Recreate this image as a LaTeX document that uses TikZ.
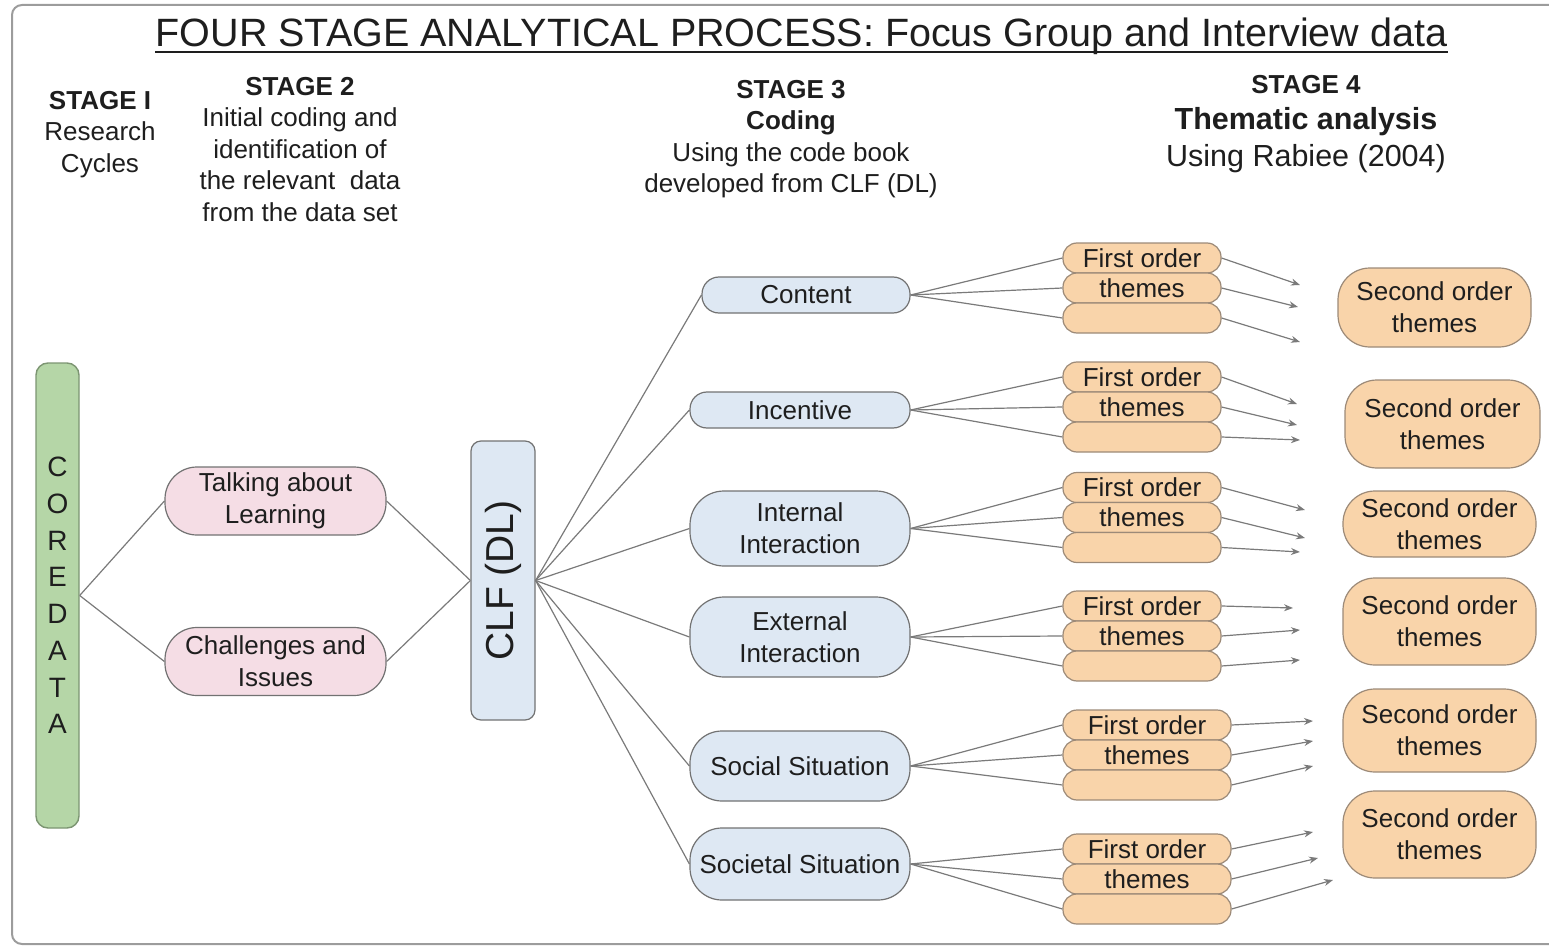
\documentclass[tikz,border=0pt]{standalone}
\usepackage{fontspec}
\setmainfont{Liberation Sans}
\usetikzlibrary{arrows.meta, positioning}

\definecolor{textGray}{HTML}{1E1E1E}
\definecolor{frameGray}{HTML}{9C9C9C}
\definecolor{lineGray}{HTML}{7A7A7A}
\definecolor{boxBorder}{HTML}{727272}
\definecolor{coreGreen}{HTML}{B5D6A7}
\definecolor{coreBorder}{HTML}{7C9572}
\definecolor{talkPink}{HTML}{F5DDE5}
\definecolor{codeBlue}{HTML}{DEE8F3}
\definecolor{themeOrange}{HTML}{F9D4AA}
\definecolor{themeBorder}{HTML}{9C8A78}

\begin{document}
\begin{tikzpicture}[x=0.5pt, y=-0.5pt, node distance=15pt,
    every node/.style={align=center, text=textGray, font=\fontsize{13}{15.8}\selectfont},
    heading/.style={anchor=north, inner sep=0pt},
    coredata/.style={draw=coreBorder, fill=coreGreen, line width=0.7pt, rounded corners=6pt, minimum width=21.5pt, minimum height=232.5pt, inner sep=0pt, font=\fontsize{14}{18.35}\selectfont},
    talkbox/.style={draw=boxBorder, fill=talkPink, line width=0.6pt, rounded corners=16pt, minimum width=110.5pt, minimum height=34pt, inner sep=0pt},
    clfbox/.style={draw=boxBorder, fill=codeBlue, line width=0.6pt, rounded corners=5pt, minimum width=32pt, minimum height=139.5pt, inner sep=0pt, font=\fontsize{19.5}{22}\selectfont},
    codebox/.style={draw=boxBorder, fill=codeBlue, line width=0.6pt, rounded corners=#1, minimum width=110pt, inner sep=0pt},
    firstbox/.style={draw=themeBorder, fill=themeOrange, line width=0.6pt, rounded corners=7pt, minimum width=79pt, minimum height=15pt, inner sep=0pt},
    secondbox/.style={draw=themeBorder, fill=themeOrange, line width=0.6pt, rounded corners=16pt, minimum width=96.5pt, inner sep=0pt},
    link/.style={draw=lineGray, line width=0.6pt},
    pointer/.style={link, -{Stealth[length=4.5pt, width=3.5pt]}}]

    \useasboundingbox (0,0) rectangle (1549,947);
    \clip (0,0) rectangle (1549,947);
    \draw[frameGray, line width=1pt, rounded corners=5pt] (12,5) rectangle (1600,944);

    % Title and stage headings
    \node (title) [anchor=base, inner sep=0pt, font=\fontsize{19.75}{24}\selectfont] at (801.5,47) {FOUR STAGE ANALYTICAL PROCESS: Focus Group and Interview data};
    \draw[textGray, line width=1.1pt] ([yshift=-2.6pt]title.base west) -- ([yshift=-2.6pt]title.base east);
    \node (stageOne) [heading] at (100,90.5) {\textbf{STAGE I}\\Research\\Cycles};
    \node (stageTwo) [heading] at (300,76.5) {\textbf{STAGE 2}\\Initial coding and\\identification of\\the relevant~ data\\from the data set};
    \node (stageThree) [heading] at (791,79.5) {\textbf{STAGE 3}\\\textbf{Coding}\\Using the code book\\developed from CLF (DL)};
    \node (stageFour) [heading, font=\fontsize{15.25}{18.4}\selectfont] at (1306,74.5) {{\fontsize{13}{15.8}\selectfont\textbf{STAGE 4}}\\\textbf{Thematic analysis}\\Using Rabiee (2004)};

    % Nodes
    \node (coredata) [coredata] at (57.5,595.5) {C\\O\\R\\E\\D\\A\\T\\A};
    \node (talking) [talkbox] at (275.5,501) {Talking about\\Learning};
    \node (challenges) [talkbox] at (275.5,661.5) {Challenges and\\Issues};
    \node (clf) [clfbox] at (503,580.5) {\rotatebox{90}{CLF (DL)}};

    \node (content) [codebox=8.5pt, minimum width=104pt, minimum height=18pt] at (806,295) {Content};
    \node (incentive) [codebox=8.5pt, minimum height=18pt] at (800,410) {Incentive};
    \node (internal) [codebox=17pt, minimum height=37.5pt] at (800,528.5) {Internal\\Interaction};
    \node (external) [codebox=17pt, minimum height=40pt] at (800,637) {External\\Interaction};
    \node (social) [codebox=16pt, minimum height=35pt] at (800,766) {Social Situation};
    \node (societal) [codebox=16pt, minimum height=36pt] at (800,864) {Societal Situation};

    \node (contentFirst1) [firstbox] at (1142,258) {First order};
    \node (contentFirst2) [firstbox, below of=contentFirst1] {themes};
    \node (contentFirst3) [firstbox, below of=contentFirst2] {};
    \node (incentiveFirst1) [firstbox] at (1142,377) {First order};
    \node (incentiveFirst2) [firstbox, below of=incentiveFirst1] {themes};
    \node (incentiveFirst3) [firstbox, below of=incentiveFirst2] {};
    \node (internalFirst1) [firstbox] at (1142,487.5) {First order};
    \node (internalFirst2) [firstbox, below of=internalFirst1] {themes};
    \node (internalFirst3) [firstbox, below of=internalFirst2] {};
    \node (externalFirst1) [firstbox] at (1142,606) {First order};
    \node (externalFirst2) [firstbox, below of=externalFirst1] {themes};
    \node (externalFirst3) [firstbox, below of=externalFirst2] {};
    \node (socialFirst1) [firstbox, minimum width=84pt] at (1147,725) {First order};
    \node (socialFirst2) [firstbox, minimum width=84pt, below of=socialFirst1] {themes};
    \node (socialFirst3) [firstbox, minimum width=84pt, below of=socialFirst2] {};
    \node (societalFirst1) [firstbox, minimum width=84pt] at (1147,849) {First order};
    \node (societalFirst2) [firstbox, minimum width=84pt, below of=societalFirst1] {themes};
    \node (societalFirst3) [firstbox, minimum width=84pt, below of=societalFirst2] {};

    \node (contentSecond) [secondbox, minimum height=39.5pt] at (1434.5,307.5) {Second order\\themes};
    \node (incentiveSecond) [secondbox, minimum width=97.5pt, minimum height=44pt] at (1442.5,424) {Second order\\themes};
    \node (internalSecond) [secondbox, minimum height=33pt] at (1439.5,524) {Second order\\themes};
    \node (externalSecond) [secondbox, minimum height=43.5pt] at (1439.5,621.5) {Second order\\themes};
    \node (socialSecond) [secondbox, minimum height=41.5pt] at (1439.5,730.5) {Second order\\themes};
    \node (societalSecond) [secondbox, minimum height=43.5pt] at (1439.5,834.5) {Second order\\themes};

    % Arrow ends
    \coordinate (contentTip1) at (1300,285);
    \coordinate (contentTip2) at (1298,307);
    \coordinate (contentTip3) at (1300,342);
    \coordinate (incentiveTip1) at (1297,404);
    \coordinate (incentiveTip2) at (1297,425);
    \coordinate (incentiveTip3) at (1300,440);
    \coordinate (internalTip1) at (1305,510);
    \coordinate (internalTip2) at (1305,538);
    \coordinate (internalTip3) at (1300,552);
    \coordinate (externalTip1) at (1293,608);
    \coordinate (externalTip2) at (1300,630);
    \coordinate (externalTip3) at (1300,660);
    \coordinate (socialTip1) at (1313,721);
    \coordinate (socialTip2) at (1313,741);
    \coordinate (socialTip3) at (1313,766);
    \coordinate (societalTip1) at (1313,832);
    \coordinate (societalTip2) at (1318,858);
    \coordinate (societalTip3) at (1333,880);

    % Lines
    \draw[link] (coredata.east) -- (talking.west);
    \draw[link] (coredata.east) -- (challenges.west);
    \draw[link] (talking.east) -- (clf.west);
    \draw[link] (challenges.east) -- (clf.west);
    \draw[link] (clf.east) -- (content.west);
    \draw[link] (clf.east) -- (incentive.west);
    \draw[link] (clf.east) -- (internal.west);
    \draw[link] (clf.east) -- (external.west);
    \draw[link] (clf.east) -- (social.west);
    \draw[link] (clf.east) -- (societal.west);
    \draw[link] (content.east) -- (contentFirst1.west);
    \draw[link] (content.east) -- (contentFirst2.west);
    \draw[link] (content.east) -- (contentFirst3.west);
    \draw[link] (incentive.east) -- (incentiveFirst1.west);
    \draw[link] (incentive.east) -- (incentiveFirst2.west);
    \draw[link] (incentive.east) -- (incentiveFirst3.west);
    \draw[link] (internal.east) -- (internalFirst1.west);
    \draw[link] (internal.east) -- (internalFirst2.west);
    \draw[link] (internal.east) -- (internalFirst3.west);
    \draw[link] (external.east) -- (externalFirst1.west);
    \draw[link] (external.east) -- (externalFirst2.west);
    \draw[link] (external.east) -- (externalFirst3.west);
    \draw[link] (social.east) -- (socialFirst1.west);
    \draw[link] (social.east) -- (socialFirst2.west);
    \draw[link] (social.east) -- (socialFirst3.west);
    \draw[link] (societal.east) -- (societalFirst1.west);
    \draw[link] (societal.east) -- (societalFirst2.west);
    \draw[link] (societal.east) -- (societalFirst3.west);

    % Arrows
    \draw[pointer] (contentFirst1.east) -- (contentTip1);
    \draw[pointer] (contentFirst2.east) -- (contentTip2);
    \draw[pointer] (contentFirst3.east) -- (contentTip3);
    \draw[pointer] (incentiveFirst1.east) -- (incentiveTip1);
    \draw[pointer] (incentiveFirst2.east) -- (incentiveTip2);
    \draw[pointer] (incentiveFirst3.east) -- (incentiveTip3);
    \draw[pointer] (internalFirst1.east) -- (internalTip1);
    \draw[pointer] (internalFirst2.east) -- (internalTip2);
    \draw[pointer] (internalFirst3.east) -- (internalTip3);
    \draw[pointer] (externalFirst1.east) -- (externalTip1);
    \draw[pointer] (externalFirst2.east) -- (externalTip2);
    \draw[pointer] (externalFirst3.east) -- (externalTip3);
    \draw[pointer] (socialFirst1.east) -- (socialTip1);
    \draw[pointer] (socialFirst2.east) -- (socialTip2);
    \draw[pointer] (socialFirst3.east) -- (socialTip3);
    \draw[pointer] (societalFirst1.east) -- (societalTip1);
    \draw[pointer] (societalFirst2.east) -- (societalTip2);
    \draw[pointer] (societalFirst3.east) -- (societalTip3);
\end{tikzpicture}
\end{document}
